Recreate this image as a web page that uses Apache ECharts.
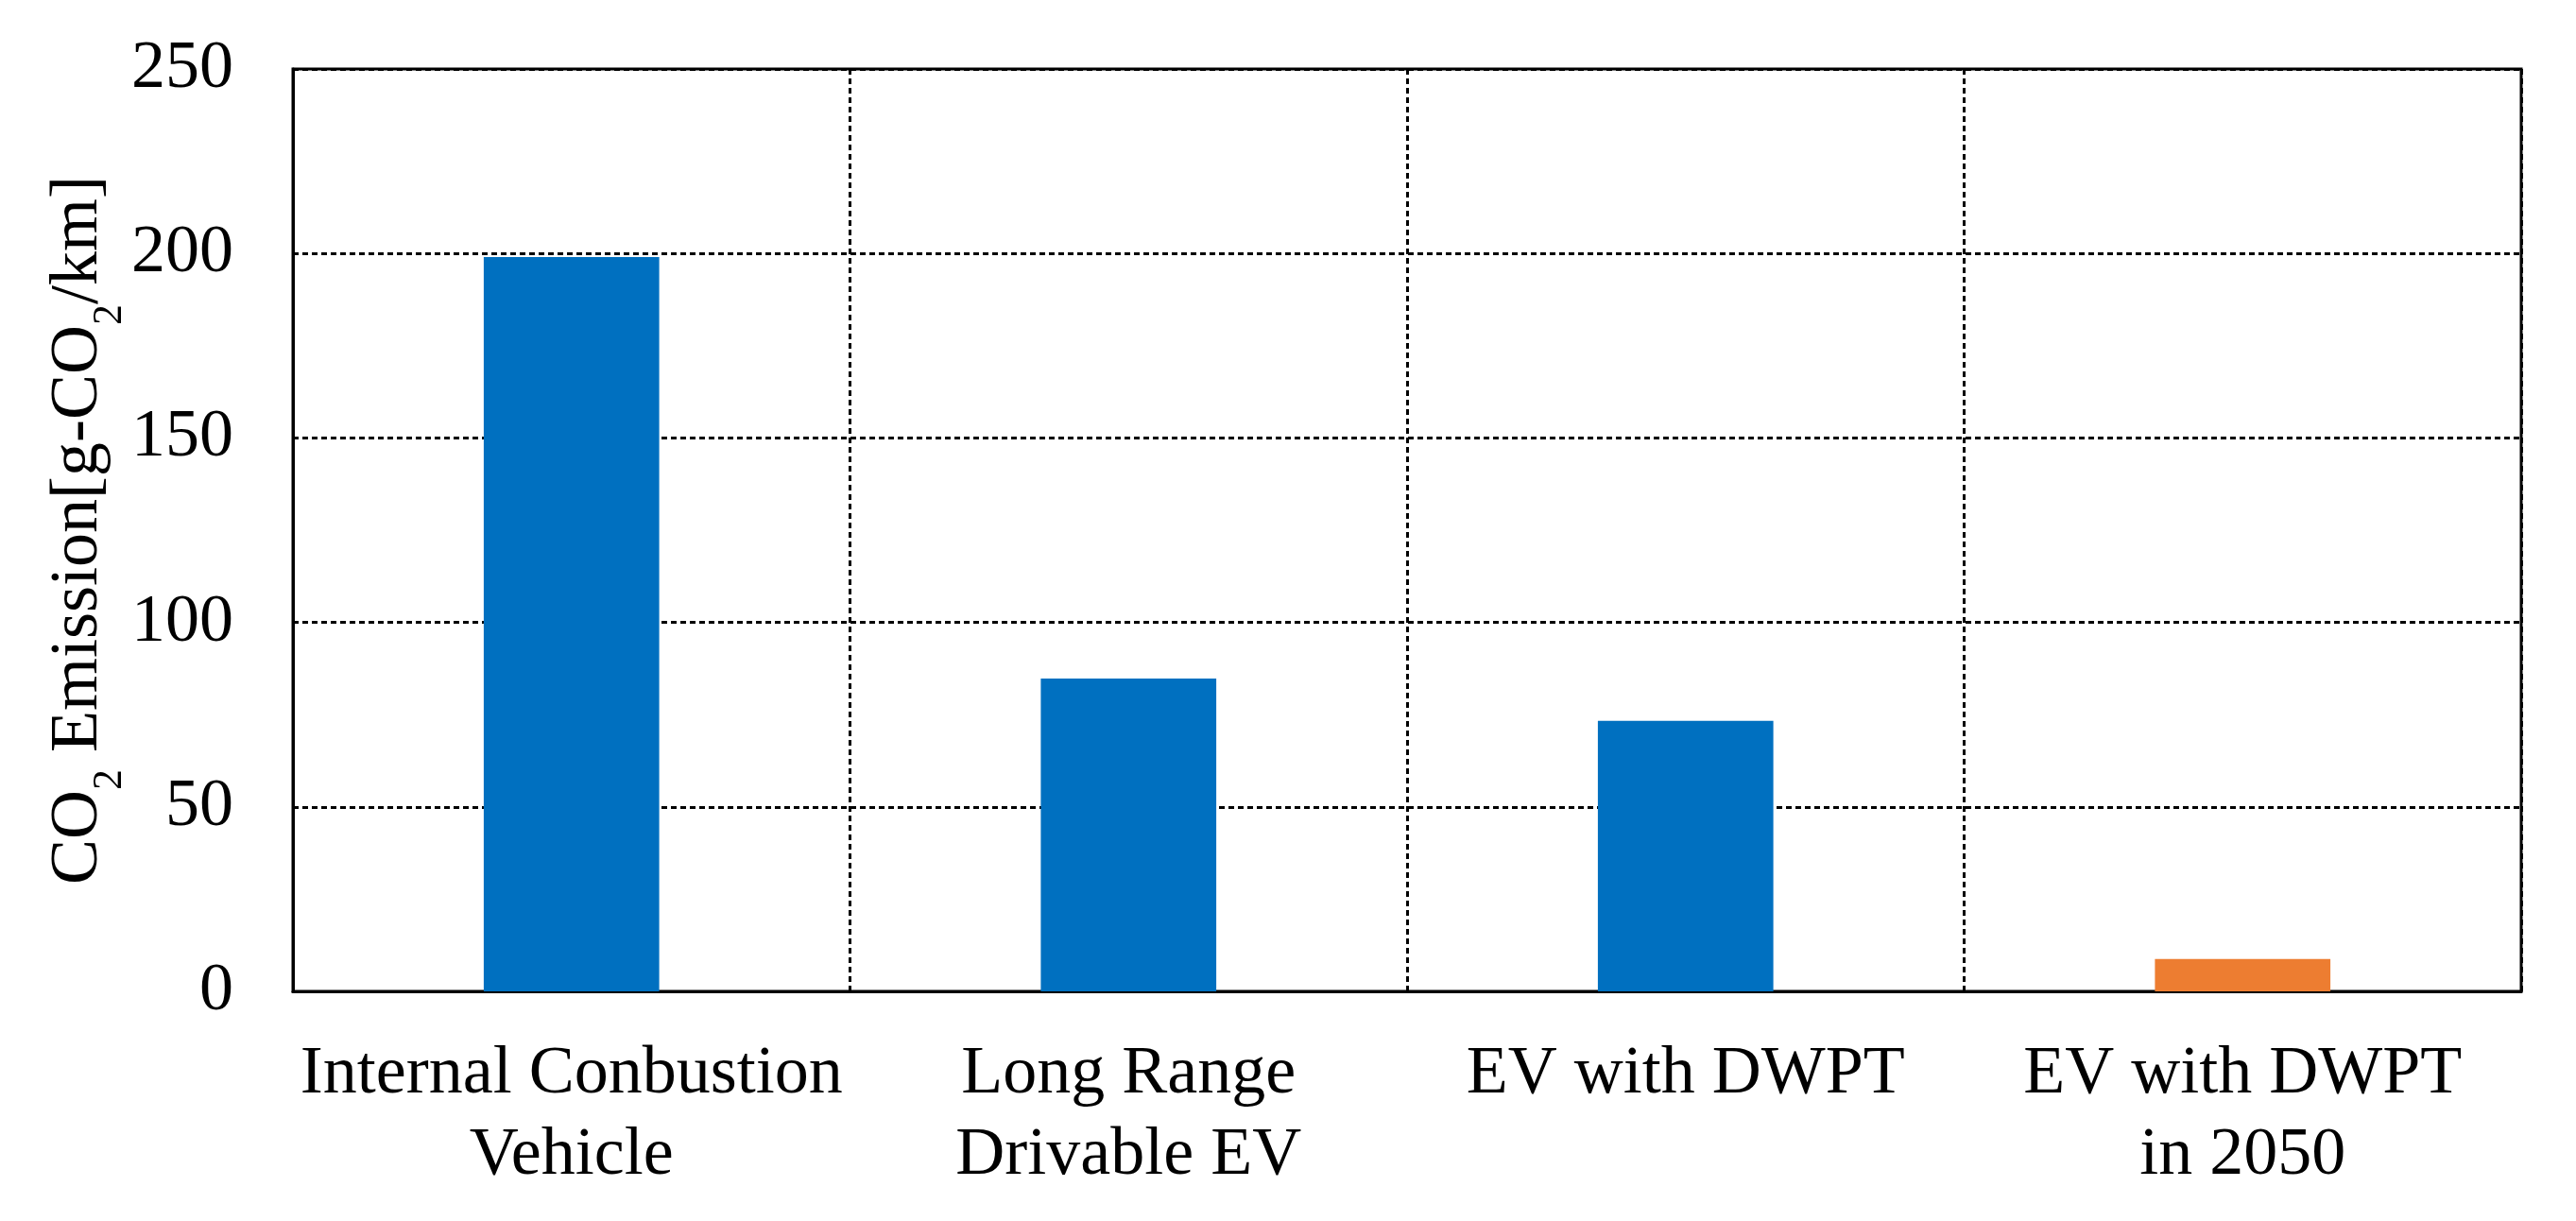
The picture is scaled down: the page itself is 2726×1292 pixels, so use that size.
<!DOCTYPE html>
<html>
<head>
<meta charset="utf-8">
<script src="https://cdn.jsdelivr.net/npm/echarts@6/dist/echarts.min.js"></script>
<style>
  html, body { margin: 0; padding: 0; background: #fff; }
  #chart { width: 2726px; height: 1292px; }
</style>
</head>
<body>
<div id="chart"></div>
<script>
const categories = ['Internal Conbustion\nVehicle', 'Long Range\nDrivable EV', 'EV with DWPT', 'EV with DWPT\nin 2050'];
const emissions = [199, 84.8, 73.3, 8.8];
const barColors = ['#0070C0', '#0070C0', '#0070C0', '#ED7D31'];
const yMin = 0, yMax = 250, yInterval = 50;

const FONT = '"Liberation Serif", "Times New Roman", serif';

const chart = echarts.init(document.getElementById('chart'), null, { renderer: 'canvas' });
chart.setOption({
  backgroundColor: '#ffffff',
  animation: false,
  grid: {
    left: 310, right: 58, top: 73, bottom: 243,
    show: true, borderColor: '#000', borderWidth: 3, backgroundColor: 'transparent'
  },
  xAxis: {
    type: 'category',
    data: categories,
    boundaryGap: true,
    axisLine: { show: true, lineStyle: { color: '#000', width: 3 } },
    axisTick: { show: false },
    splitLine: { show: true, lineStyle: { color: '#000', width: 3, type: [6, 4] } },
    axisLabel: {
      interval: 0,
      margin: 45,
      fontFamily: FONT,
      fontSize: 72,
      lineHeight: 86,
      color: '#000'
    }
  },
  yAxis: {
    type: 'value',
    min: yMin, max: yMax, interval: yInterval,
    axisLine: { show: true, lineStyle: { color: '#000', width: 3 } },
    axisTick: { show: false },
    splitLine: { show: true, lineStyle: { color: '#000', width: 3, type: [6, 4] } },
    axisLabel: { margin: 63, fontFamily: FONT, fontSize: 72, color: '#000' },
    name: '{a|CO}{s|2}{a| Emission[g-CO}{s|2}{a|/km]}',
    nameLocation: 'middle',
    nameRotate: 90,
    nameGap: 172,
    nameMoveOverlap: false,
    nameTextStyle: {
      fontFamily: FONT,
      fontSize: 72,
      color: '#000',
      rich: {
        a: { fontFamily: FONT, fontSize: 72, lineHeight: 80, color: '#000', verticalAlign: 'middle' },
        s: { fontFamily: FONT, fontSize: 44, lineHeight: 110, color: '#000', verticalAlign: 'bottom' }
      }
    }
  },
  series: [{
    type: 'bar',
    barWidth: '31.5%',
    data: emissions.map((v, i) => ({ value: v, itemStyle: { color: barColors[i] } })),
    z: 3
  }]
});
</script>
</body>
</html>
